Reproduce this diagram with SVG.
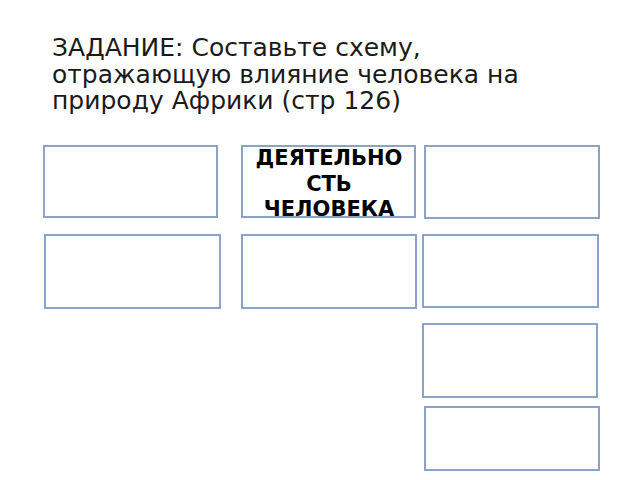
<svg xmlns="http://www.w3.org/2000/svg" width="640" height="480" viewBox="0 0 640 480">
<style>
.box{fill:#ffffff;stroke:#7f9bbf;stroke-width:1.8}
.title{font-family:"DejaVu Sans",sans-serif;font-size:25px;fill:#1a1a1a}
.lbl{font-family:"DejaVu Sans",sans-serif;font-size:21px;font-weight:bold;fill:#000;text-anchor:middle}
</style>
<rect width="640" height="480" fill="#ffffff"/>
<g id="title">
<text class="title" x="52" y="56">ЗАДАНИЕ: Составьте схему,</text>
<text class="title" x="52" y="83">отражающую влияние человека на</text>
<text class="title" x="52" y="109">природу Африки (стр 126)</text>
</g>
<g id="node1"><rect class="box" x="44" y="146" width="173" height="71"/></g>
<g id="node2"><rect class="box" x="242" y="146" width="173" height="71"/>
<text class="lbl" x="329" y="165">ДЕЯТЕЛЬНО</text>
<text class="lbl" x="329" y="191">СТЬ</text>
<text class="lbl" x="329" y="216">ЧЕЛОВЕКА</text></g>
<g id="node3"><rect class="box" x="425" y="146" width="174" height="72"/></g>
<g id="node4"><rect class="box" x="45" y="235" width="175" height="73"/></g>
<g id="node5"><rect class="box" x="242" y="235" width="174" height="73"/></g>
<g id="node6"><rect class="box" x="423" y="235" width="175" height="72"/></g>
<g id="node7"><rect class="box" x="423" y="324" width="174" height="73"/></g>
<g id="node8"><rect class="box" x="425" y="407" width="174" height="63"/></g>
<g id="connectors"></g>
</svg>
